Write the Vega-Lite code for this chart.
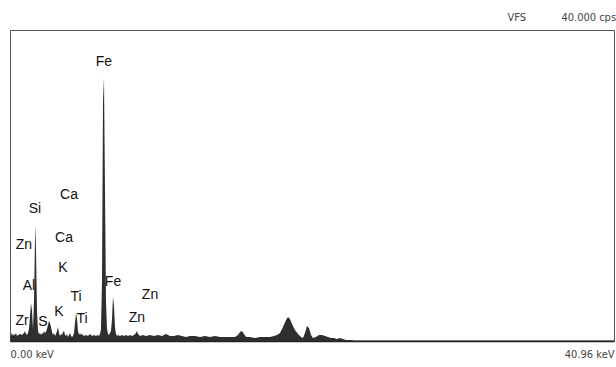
{
  "$schema": "https://vega.github.io/schema/vega-lite/v6.json",
  "width": 604,
  "height": 311,
  "autosize": {"type": "none"},
  "padding": {"left": 10, "top": 30, "right": 2, "bottom": 26},
  "background": "white",
  "config": {"view": {"stroke": "#555", "strokeWidth": 1}},
  "datasets": {
    "spectrum": [
      {"keV": 0.0, "counts": 0}, {"keV": 0.068, "counts": 6}, {"keV": 0.136, "counts": 8}, {"keV": 0.203, "counts": 5},
      {"keV": 0.271, "counts": 7}, {"keV": 0.339, "counts": 6}, {"keV": 0.407, "counts": 8}, {"keV": 0.475, "counts": 5},
      {"keV": 0.543, "counts": 6}, {"keV": 0.678, "counts": 7}, {"keV": 0.814, "counts": 6}, {"keV": 0.949, "counts": 8},
      {"keV": 1.017, "counts": 10}, {"keV": 1.085, "counts": 7}, {"keV": 1.153, "counts": 6}, {"keV": 1.221, "counts": 8},
      {"keV": 1.288, "counts": 12}, {"keV": 1.356, "counts": 25}, {"keV": 1.424, "counts": 38}, {"keV": 1.492, "counts": 30},
      {"keV": 1.56, "counts": 12}, {"keV": 1.628, "counts": 40}, {"keV": 1.695, "counts": 100}, {"keV": 1.729, "counts": 116},
      {"keV": 1.763, "counts": 90}, {"keV": 1.831, "counts": 30}, {"keV": 1.899, "counts": 10}, {"keV": 1.967, "counts": 7},
      {"keV": 2.034, "counts": 8}, {"keV": 2.102, "counts": 6}, {"keV": 2.17, "counts": 8}, {"keV": 2.238, "counts": 7},
      {"keV": 2.306, "counts": 10}, {"keV": 2.374, "counts": 8}, {"keV": 2.441, "counts": 9}, {"keV": 2.509, "counts": 12},
      {"keV": 2.577, "counts": 16}, {"keV": 2.645, "counts": 20}, {"keV": 2.713, "counts": 18}, {"keV": 2.78, "counts": 14},
      {"keV": 2.848, "counts": 9}, {"keV": 2.916, "counts": 6}, {"keV": 2.984, "counts": 8}, {"keV": 3.052, "counts": 5},
      {"keV": 3.119, "counts": 7}, {"keV": 3.187, "counts": 10}, {"keV": 3.255, "counts": 14}, {"keV": 3.323, "counts": 8},
      {"keV": 3.391, "counts": 5}, {"keV": 3.459, "counts": 7}, {"keV": 3.526, "counts": 6}, {"keV": 3.594, "counts": 9},
      {"keV": 3.662, "counts": 10}, {"keV": 3.73, "counts": 6}, {"keV": 3.798, "counts": 5}, {"keV": 3.865, "counts": 7},
      {"keV": 3.933, "counts": 4}, {"keV": 4.001, "counts": 6}, {"keV": 4.069, "counts": 8}, {"keV": 4.137, "counts": 5},
      {"keV": 4.205, "counts": 4}, {"keV": 4.272, "counts": 5}, {"keV": 4.34, "counts": 8}, {"keV": 4.408, "counts": 18},
      {"keV": 4.476, "counts": 28}, {"keV": 4.544, "counts": 22}, {"keV": 4.611, "counts": 10}, {"keV": 4.679, "counts": 6},
      {"keV": 4.747, "counts": 8}, {"keV": 4.815, "counts": 6}, {"keV": 4.883, "counts": 7}, {"keV": 5.018, "counts": 5},
      {"keV": 5.154, "counts": 6}, {"keV": 5.29, "counts": 5}, {"keV": 5.425, "counts": 7}, {"keV": 5.561, "counts": 5},
      {"keV": 5.696, "counts": 6}, {"keV": 5.832, "counts": 5}, {"keV": 5.968, "counts": 6}, {"keV": 6.035, "counts": 5},
      {"keV": 6.103, "counts": 7}, {"keV": 6.171, "counts": 12}, {"keV": 6.239, "counts": 60}, {"keV": 6.307, "counts": 240},
      {"keV": 6.374, "counts": 263}, {"keV": 6.442, "counts": 150}, {"keV": 6.51, "counts": 40}, {"keV": 6.578, "counts": 12},
      {"keV": 6.646, "counts": 7}, {"keV": 6.714, "counts": 6}, {"keV": 6.781, "counts": 8}, {"keV": 6.849, "counts": 10},
      {"keV": 6.917, "counts": 22}, {"keV": 6.985, "counts": 44}, {"keV": 7.053, "counts": 35}, {"keV": 7.12, "counts": 14},
      {"keV": 7.188, "counts": 7}, {"keV": 7.256, "counts": 5}, {"keV": 7.324, "counts": 6}, {"keV": 7.459, "counts": 5},
      {"keV": 7.595, "counts": 6}, {"keV": 7.731, "counts": 5}, {"keV": 7.866, "counts": 6}, {"keV": 8.002, "counts": 5},
      {"keV": 8.138, "counts": 6}, {"keV": 8.273, "counts": 5}, {"keV": 8.409, "counts": 6}, {"keV": 8.545, "counts": 8},
      {"keV": 8.612, "counts": 10}, {"keV": 8.68, "counts": 7}, {"keV": 8.816, "counts": 5}, {"keV": 9.019, "counts": 6},
      {"keV": 9.223, "counts": 5}, {"keV": 9.494, "counts": 6}, {"keV": 9.765, "counts": 5}, {"keV": 10.037, "counts": 6},
      {"keV": 10.308, "counts": 5}, {"keV": 10.579, "counts": 7}, {"keV": 10.85, "counts": 5}, {"keV": 11.122, "counts": 5},
      {"keV": 11.393, "counts": 6}, {"keV": 11.664, "counts": 5}, {"keV": 11.935, "counts": 4}, {"keV": 12.207, "counts": 5},
      {"keV": 12.546, "counts": 5}, {"keV": 12.885, "counts": 4}, {"keV": 13.224, "counts": 5}, {"keV": 13.563, "counts": 4},
      {"keV": 13.902, "counts": 5}, {"keV": 14.241, "counts": 4}, {"keV": 14.58, "counts": 4}, {"keV": 14.919, "counts": 4},
      {"keV": 15.258, "counts": 4}, {"keV": 15.462, "counts": 6}, {"keV": 15.597, "counts": 9}, {"keV": 15.733, "counts": 10},
      {"keV": 15.869, "counts": 7}, {"keV": 16.004, "counts": 4}, {"keV": 16.276, "counts": 4}, {"keV": 16.615, "counts": 3},
      {"keV": 16.954, "counts": 4}, {"keV": 17.293, "counts": 4}, {"keV": 17.632, "counts": 4}, {"keV": 17.903, "counts": 5},
      {"keV": 18.107, "counts": 6}, {"keV": 18.31, "counts": 8}, {"keV": 18.513, "counts": 14}, {"keV": 18.717, "counts": 21},
      {"keV": 18.852, "counts": 24}, {"keV": 18.988, "counts": 22}, {"keV": 19.124, "counts": 17}, {"keV": 19.327, "counts": 11},
      {"keV": 19.53, "counts": 7}, {"keV": 19.734, "counts": 4}, {"keV": 19.869, "counts": 3}, {"keV": 20.005, "counts": 8},
      {"keV": 20.141, "counts": 15}, {"keV": 20.276, "counts": 13}, {"keV": 20.412, "counts": 6}, {"keV": 20.548, "counts": 3},
      {"keV": 20.751, "counts": 4}, {"keV": 20.955, "counts": 6}, {"keV": 21.158, "counts": 6}, {"keV": 21.362, "counts": 5},
      {"keV": 21.565, "counts": 4}, {"keV": 21.768, "counts": 3}, {"keV": 21.972, "counts": 3}, {"keV": 22.175, "counts": 2},
      {"keV": 22.379, "counts": 3}, {"keV": 22.582, "counts": 2}, {"keV": 22.786, "counts": 1}, {"keV": 23.057, "counts": 1},
      {"keV": 23.396, "counts": 0.5}, {"keV": 23.735, "counts": 0.5}, {"keV": 25.091, "counts": 0.5}, {"keV": 26.448, "counts": 0.5},
      {"keV": 27.804, "counts": 0.5}, {"keV": 29.16, "counts": 0.5}, {"keV": 31.873, "counts": 0.5}, {"keV": 35.942, "counts": 0.5},
      {"keV": 40.96, "counts": 0.5}
    ],
    "labels": [
      {"keV": 6.374, "counts": 279, "label": "Fe"},
      {"keV": 4.001, "counts": 146, "label": "Ca"},
      {"keV": 1.695, "counts": 132, "label": "Si"},
      {"keV": 3.662, "counts": 103, "label": "Ca"},
      {"keV": 0.949, "counts": 96, "label": "Zn"},
      {"keV": 3.594, "counts": 73, "label": "K"},
      {"keV": 1.288, "counts": 55, "label": "Al"},
      {"keV": 4.476, "counts": 44, "label": "Ti"},
      {"keV": 6.985, "counts": 59, "label": "Fe"},
      {"keV": 9.494, "counts": 46, "label": "Zn"},
      {"keV": 3.323, "counts": 29, "label": "K"},
      {"keV": 4.883, "counts": 22, "label": "Ti"},
      {"keV": 8.612, "counts": 23, "label": "Zn"},
      {"keV": 0.814, "counts": 20, "label": "Zr"},
      {"keV": 2.238, "counts": 19, "label": "S"}
    ],
    "header": [
      {"keV": 34.99, "counts": 323, "label": "VFS"},
      {"keV": 41.1, "counts": 323, "label": "40.000 cps"}
    ]
  },
  "layer": [
    {
      "data": {"name": "labels"},
      "mark": {"type": "text", "font": "Liberation Sans", "fontSize": 14, "color": "#111", "align": "center", "baseline": "middle"},
      "encoding": {
        "x": {
          "field": "keV", "type": "quantitative", "scale": {"domain": [0, 40.96], "nice": false, "zero": false},
          "axis": {
            "values": [0, 40.96], "labelExpr": "datum.value == 0 ? '0.00 keV' : '40.96 keV'",
            "labelFlush": true, "labelOverlap": false, "ticks": false, "grid": false, "title": null,
            "domainColor": "#222", "domainWidth": 1.5,
            "labelFont": "Liberation Sans Narrow, DejaVu Sans Condensed, sans-serif", "labelFontSize": 11,
            "labelColor": "#444", "labelPadding": 7
          }
        },
        "y": {"field": "counts", "type": "quantitative", "scale": {"domain": [0, 311], "nice": false}, "axis": null},
        "text": {"field": "label"}
      }
    },
    {
      "data": {"name": "spectrum"},
      "mark": {"type": "area", "color": "#2e2e2e", "interpolate": "linear"},
      "encoding": {
        "x": {"field": "keV", "type": "quantitative"},
        "y": {"field": "counts", "type": "quantitative"}
      }
    },
    {
      "data": {"name": "header"},
      "mark": {"type": "text", "font": "Liberation Sans Narrow, DejaVu Sans Condensed, sans-serif", "fontSize": 11, "color": "#444", "baseline": "middle", "align": "right"},
      "encoding": {
        "x": {"field": "keV", "type": "quantitative"},
        "y": {"field": "counts", "type": "quantitative"},
        "text": {"field": "label"}
      }
    }
  ]
}
